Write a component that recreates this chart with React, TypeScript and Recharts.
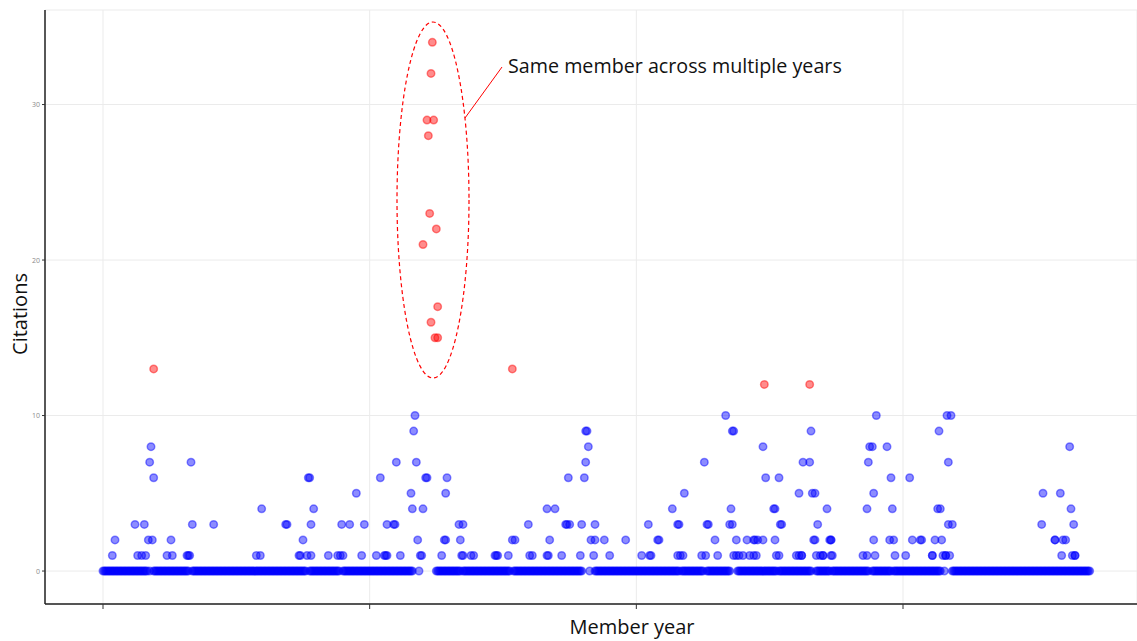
import { CartesianGrid, Scatter, ScatterChart, XAxis, YAxis } from 'recharts'

const W = 1137
const H = 641

// member-year indices with zero citations, stored as inclusive runs
const zeroRuns: [number, number][] = [
  [0, 33], [35, 35], [38, 64], [67, 152], [155, 177], [180, 232], [237, 237],
  [250, 268], [270, 305], [308, 359], [365, 365], [369, 432], [434, 450],
  [453, 470], [476, 504], [505, 505], [507, 531], [535, 545], [547, 574],
  [577, 577], [578, 591], [593, 628], [631, 631], [637, 740],
]

// [member-year index, citations]
const citedMembers: [number, number][] = [
  [7, 1], [9, 2], [24, 3], [31, 3], [26, 1], [29, 1], [32, 1], [34, 2], [37, 2], [36, 8],
  [35, 7], [38, 6], [66, 7], [67, 3], [83, 3], [51, 2], [48, 1], [52, 1], [63, 1], [64, 1],
  [65, 1], [115, 1], [118, 1], [119, 4],
  [137, 3], [138, 3], [147, 1], [148, 1], [150, 2], [153, 1], [154, 6], [155, 6], [156, 1],
  [156, 3], [158, 4], [169, 1], [176, 1], [178, 1], [180, 1], [179, 3], [185, 3], [190, 5],
  [196, 3], [194, 1], [205, 1], [211, 1], [212, 1], [213, 1], [208, 6], [220, 7], [213, 3],
  [218, 3], [219, 3], [223, 1], [231, 5], [232, 4], [240, 4], [234, 10], [233, 9], [235, 7],
  [236, 2], [238, 1], [239, 1], [242, 6], [243, 6],
  [254, 1], [256, 2], [257, 2], [257, 5], [258, 6], [267, 3], [270, 3], [268, 2], [269, 1],
  [270, 1], [276, 1], [278, 1], [294, 1], [295, 1], [296, 1], [304, 1], [307, 2], [309, 2],
  [319, 3], [320, 1], [322, 1], [333, 1], [334, 1], [333, 4], [339, 4], [335, 2], [344, 1],
  [347, 3], [348, 3], [350, 3], [349, 6], [359, 3], [358, 1], [361, 6], [362, 7], [362, 9],
  [363, 9], [364, 8], [368, 1], [366, 2], [369, 2], [369, 3], [376, 2], [380, 1], [392, 2],
  [404, 1], [410, 1], [411, 1], [409, 3], [416, 2], [417, 2], [427, 4], [436, 5], [431, 3],
  [432, 3], [431, 1], [433, 1], [435, 1], [451, 7], [453, 3], [454, 3], [449, 1], [452, 1],
  [459, 2], [461, 1], [467, 10], [472, 9], [473, 9], [471, 4], [470, 3], [472, 3], [475, 2],
  [473, 1], [475, 1], [477, 1], [480, 1], [485, 1], [483, 2], [488, 2], [489, 2], [491, 2],
  [488, 1], [490, 1],
  [495, 2], [495, 8], [497, 6], [507, 6], [503, 4], [504, 4], [508, 3], [509, 3], [504, 2],
  [505, 1], [507, 1], [520, 1], [522, 1], [524, 1], [524, 1], [522, 5], [532, 5], [534, 5],
  [525, 7], [530, 7], [531, 9], [533, 2], [534, 2], [536, 3], [543, 4], [545, 2], [546, 2],
  [546, 2], [535, 1], [538, 1], [540, 1], [540, 1], [546, 1], [547, 1], [570, 1], [573, 1],
  [579, 1], [580, 10], [575, 8], [577, 8], [588, 8], [574, 7], [591, 6], [605, 6], [578, 5],
  [573, 4], [592, 4], [578, 2], [590, 2], [593, 2], [594, 1], [602, 1], [607, 2], [613, 2],
  [614, 2],
  [633, 10], [636, 10], [627, 9], [634, 7], [626, 4], [628, 4], [634, 3], [637, 3], [624, 2],
  [629, 2], [622, 1], [622, 1], [630, 1], [632, 1], [632, 1], [635, 1], [705, 5], [718, 5],
  [704, 3], [725, 8], [726, 4], [728, 3], [714, 2], [714, 2], [720, 2], [722, 2], [719, 1],
  [727, 1], [729, 1], [729, 1],
]

// high-citation member-years, highlighted in red
const highlighted: [number, number][] = [
  [38, 13], [240, 21], [243, 29], [248, 29], [244, 28], [245, 23], [250, 22], [247, 34],
  [246, 32], [251, 17], [246, 16], [249, 15], [251, 15], [307, 13], [496, 12], [530, 12],
]

const xTicks = [0, 200, 400, 600]
const yTicks = [0, 10, 20, 30]

const bluePoints = [
  ...zeroRuns.flatMap(([from, to]) =>
    Array.from({ length: to - from + 1 }, (_, i) => ({ x: from + i, y: 0 })),
  ),
  ...citedMembers.map(([x, y]) => ({ x, y })),
]
const redPoints = highlighted.map(([x, y]) => ({ x, y }))

function Dot({ cx, cy, color }: { cx?: number; cy?: number; color: string }) {
  if (cx == null || cy == null) return null
  return (
    <circle
      cx={cx}
      cy={cy}
      r={3.75}
      fill={color}
      fillOpacity={0.45}
      stroke={color}
      strokeOpacity={0.45}
      strokeWidth={1.5}
    />
  )
}

// x ticks keep their marks and grid lines but show no labels
const NoLabel = () => <g />

const font = '"Open Sans", "Noto Sans", sans-serif'

export default function App() {
  return (
    <div style={{ position: 'absolute', left: 0, top: 0, width: W, height: H, background: '#fff' }}>
      <ScatterChart width={W} height={H} margin={{ top: 10, right: 0, bottom: 0, left: 0 }}>
        <CartesianGrid stroke="#ebebeb" strokeWidth={1} />
        <XAxis
          type="number"
          dataKey="x"
          domain={[-43.5, 775.5]}
          ticks={xTicks}
          tick={<NoLabel />}
          tickSize={5}
          height={37}
          axisLine={{ stroke: '#555', strokeWidth: 2 }}
          tickLine={{ stroke: '#333' }}
          allowDataOverflow
        />
        <YAxis
          type="number"
          dataKey="y"
          domain={[-2.12, 36.08]}
          ticks={yTicks}
          width={45}
          tickSize={3}
          tick={{ fontSize: 7, fill: '#8a8a8a', fontFamily: font }}
          axisLine={{ stroke: '#222', strokeWidth: 1.5 }}
          tickLine={{ stroke: '#333' }}
          allowDataOverflow
        />
        <Scatter
          data={bluePoints}
          isAnimationActive={false}
          shape={(p: any) => <Dot cx={p.cx} cy={p.cy} color="#0000ff" />}
        />
        <Scatter
          data={redPoints}
          isAnimationActive={false}
          shape={(p: any) => <Dot cx={p.cx} cy={p.cy} color="#ff0000" />}
        />
      </ScatterChart>
      <svg
        width={W}
        height={H}
        style={{ position: 'absolute', left: 0, top: 0, pointerEvents: 'none' }}
      >
        <ellipse
          cx={433}
          cy={200}
          rx={36}
          ry={178}
          fill="none"
          stroke="#ff0000"
          strokeWidth={1.2}
          strokeDasharray="4 3"
        />
        <line x1={465} y1={118} x2={502} y2={67} stroke="#ff0000" strokeWidth={1} />
        <text x={508} y={73} fontFamily={font} fontSize={19.7} fill="#111">
          Same member across multiple years
        </text>
        <text x={632} y={634} fontFamily={font} fontSize={20} fill="#111" textAnchor="middle">
          Member year
        </text>
        <text
          x={0}
          y={0}
          transform="translate(27 314) rotate(-90)"
          fontFamily={font}
          fontSize={20}
          fill="#111"
          textAnchor="middle"
        >
          Citations
        </text>
      </svg>
    </div>
  )
}
